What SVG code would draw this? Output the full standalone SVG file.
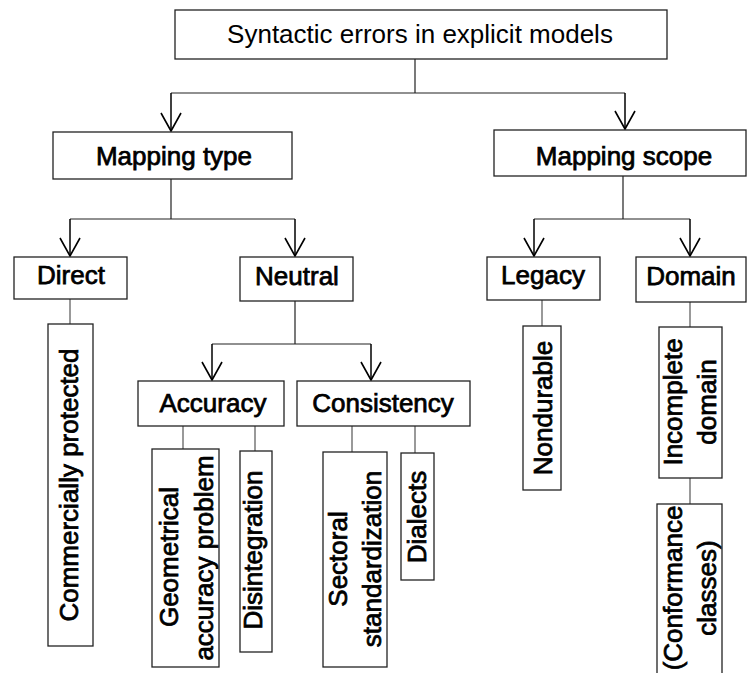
<svg xmlns="http://www.w3.org/2000/svg" width="747" height="673" viewBox="0 0 747 673">
<style>
.box{fill:#fff;stroke:#222;stroke-width:1.3}
.t{font-family:"Liberation Sans",Arial,sans-serif;font-size:26px;fill:#000;text-anchor:middle}
.hv{stroke:#000;stroke-width:0.75}
.c{fill:none;stroke:#222;stroke-width:1.2}
.leaf{fill:none;stroke:#555;stroke-width:1.2}
.a{fill:none;stroke:#000;stroke-width:1.5;marker-end:url(#ah)}
</style>
<defs>
<marker id="ah" markerUnits="userSpaceOnUse" markerWidth="24" markerHeight="24" refX="20" refY="12" orient="auto" viewBox="0 0 24 24">
<path d="M2,2 L20,12 L2,22" fill="none" stroke="#000" stroke-width="1.6"/>
</marker>
</defs>
<rect width="747" height="673" fill="#fff"/>
<g id="connectors">
<path class="c" d="M415,59 V93 M171,93 H625"/>
<path class="a" d="M171,93 V131"/>
<path class="a" d="M625,93 V129"/>
<path class="c" d="M171,179 V219 M70,219 H295"/>
<path class="a" d="M70,219 V256"/>
<path class="a" d="M295,219 V256"/>
<path class="c" d="M623,176 V219 M534,219 H690"/>
<path class="a" d="M534,219 V256"/>
<path class="a" d="M690,219 V256"/>
<path class="c" d="M295,301 V344 M212,344 H371"/>
<path class="a" d="M212,344 V380"/>
<path class="a" d="M371,344 V380"/>
<path class="leaf" d="M70,299 V324"/>
<path class="leaf" d="M183,426 V449"/>
<path class="leaf" d="M255,426 V451"/>
<path class="leaf" d="M352,426 V452"/>
<path class="leaf" d="M415,426 V453"/>
<path class="leaf" d="M542,300 V326"/>
<path class="leaf" d="M690,302 V327"/>
<path class="leaf" d="M690,478 V504"/>
</g>
<g id="root"><rect class="box" x="175" y="10" width="492" height="49"/><text class="t" x="420" y="43" font-size="26.5">Syntactic errors in explicit models</text></g>
<g id="mapping-type"><rect class="box" x="53" y="132" width="239" height="47"/><text class="t hv" x="174" y="165">Mapping type</text></g>
<g id="mapping-scope"><rect class="box" x="494" y="130" width="252" height="46"/><text class="t hv" x="624" y="165">Mapping scope</text></g>
<g id="direct"><rect class="box" x="14" y="257" width="113" height="42"/><text class="t hv" x="71" y="284">Direct</text></g>
<g id="neutral"><rect class="box" x="240" y="257" width="113" height="44"/><text class="t hv" x="297" y="285">Neutral</text></g>
<g id="legacy"><rect class="box" x="487" y="257" width="113" height="43"/><text class="t hv" x="543" y="284">Legacy</text></g>
<g id="domain"><rect class="box" x="636" y="257" width="110" height="45"/><text class="t hv" x="691" y="285">Domain</text></g>
<g id="accuracy"><rect class="box" x="138" y="381" width="146" height="45"/><text class="t hv" x="213" y="412">Accuracy</text></g>
<g id="consistency"><rect class="box" x="297" y="381" width="173" height="45"/><text class="t hv" x="383" y="412">Consistency</text></g>
<g id="commercially-protected"><rect class="box" x="48" y="324" width="45" height="322"/><text class="t hv" transform="translate(78,485) rotate(-90)">Commercially protected</text></g>
<g id="geometrical"><rect class="box" x="152" y="449" width="67" height="218"/><text class="t hv" transform="translate(178,557) rotate(-90)">Geometrical</text><text class="t hv" transform="translate(213,558) rotate(-90)">accuracy problem</text></g>
<g id="disintegration"><rect class="box" x="240" y="451" width="32" height="201"/><text class="t hv" transform="translate(262,550) rotate(-90)">Disintegration</text></g>
<g id="sectoral"><rect class="box" x="323" y="452" width="64" height="215"/><text class="t hv" transform="translate(347,559) rotate(-90)">Sectoral</text><text class="t hv" transform="translate(381,559) rotate(-90)">standardization</text></g>
<g id="dialects"><rect class="box" x="401" y="453" width="33" height="127"/><text class="t hv" transform="translate(426,517) rotate(-90)">Dialects</text></g>
<g id="nondurable"><rect class="box" x="523" y="326" width="38" height="164"/><text class="t hv" transform="translate(552,408) rotate(-90)">Nondurable</text></g>
<g id="incomplete-domain"><rect class="box" x="659" y="327" width="63" height="151"/><text class="t hv" transform="translate(682,402) rotate(-90)">Incomplete</text><text class="t hv" transform="translate(716,402) rotate(-90)">domain</text></g>
<g id="conformance"><rect class="box" x="657" y="504" width="65" height="190"/><text class="t hv" transform="translate(682,588) rotate(-90)">(Conformance</text><text class="t hv" transform="translate(716,588) rotate(-90)">classes)</text></g>
</svg>
